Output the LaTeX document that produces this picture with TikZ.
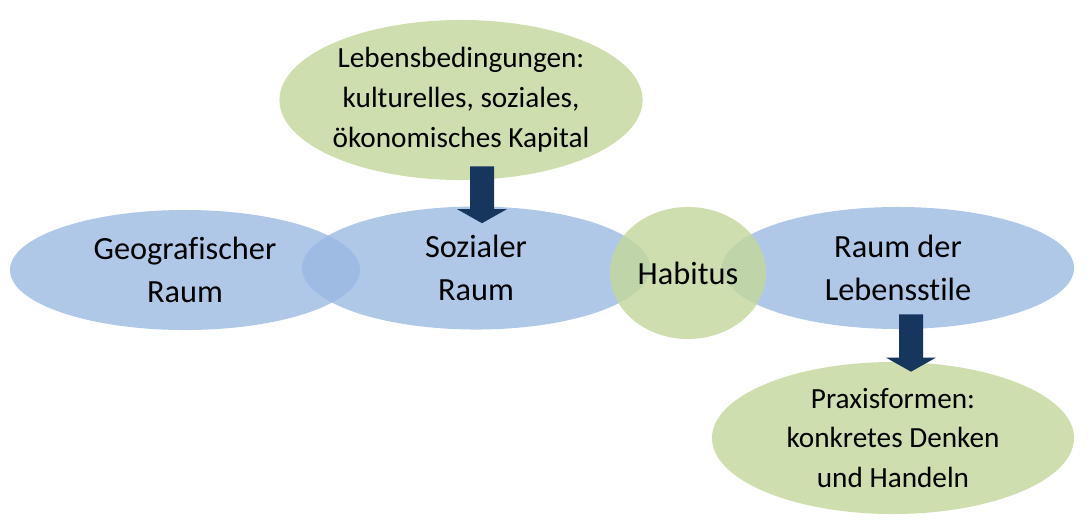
\documentclass[tikz,border=0pt]{standalone}
\usepackage{fontspec}
\setmainfont{Carlito}[Ligatures=NoCommon]
\definecolor{navyblue}{RGB}{23,54,93}
\definecolor{softblue}{RGB}{152,184,226}
\definecolor{softgreen}{RGB}{196,215,158}
\usetikzlibrary{arrows.meta,shapes.geometric,positioning}

\begin{document}
\begin{tikzpicture}[
      x=0.025cm, y=-0.025cm,
      arr/.style={-{Triangle[width=1.225cm, length=0.35cm]}, line width=0.6cm, navyblue},
      raum/.style={ellipse, fill=softblue, fill opacity=0.78, text opacity=1,
                   align=center, inner sep=0pt, font=\fontsize{23}{30.6}\selectfont},
      feld/.style={ellipse, fill=softgreen, fill opacity=0.82, text opacity=1,
                   align=center, inner sep=0pt, font=\fontsize{20.8}{28.4}\selectfont}
    ]
    \useasboundingbox (0,0) rectangle (1090,528);
    \node[raum, minimum width=8.75cm, minimum height=3.0cm] (geo) at (185,270)
      {Geografischer\\Raum};
    \node[raum, minimum width=8.7cm, minimum height=3.075cm] (soz) at (476,268)
      {Sozialer\\Raum};
    \node[raum, minimum width=8.8cm, minimum height=3.05cm] (stil) at (898,268)
      {Raum der\\Lebensstile};
    \node[feld, minimum width=3.9cm, minimum height=3.3cm,
          font=\fontsize{23}{30.6}\selectfont] (hab) at (688,273) {Habitus};
    \node[feld, minimum width=8.5cm, minimum height=4.0cm] (bed) at (461,100)
      {Lebensbedingungen:\\kulturelles, soziales,\\ökonomisches Kapital};
    \node[feld, minimum width=9.05cm, minimum height=3.8cm] (prax) at (893,438)
      {Praxisformen:\\konkretes Denken\\und Handeln};
    \draw[arr] ([xshift=0.525cm, yshift=0.35cm]bed.south) -- ([xshift=0.15cm, yshift=-0.425cm]soz.north);
    \draw[arr] ([xshift=0.325cm, yshift=0.375cm]stil.south) -- ([xshift=0.45cm, yshift=-0.25cm]prax.north);
  \end{tikzpicture}
\end{document}
